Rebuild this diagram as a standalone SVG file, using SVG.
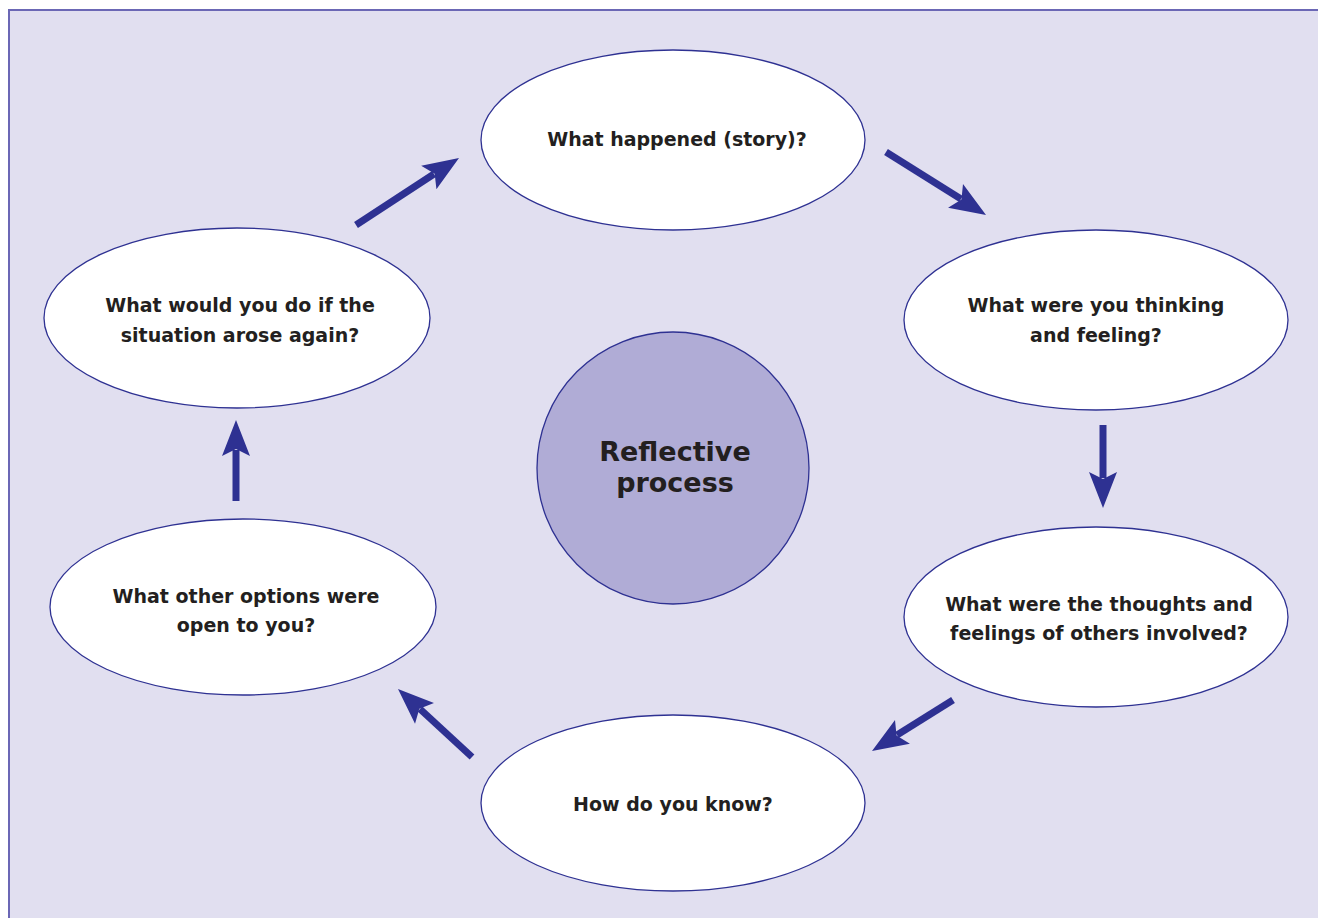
<svg xmlns="http://www.w3.org/2000/svg" width="1318" height="918" viewBox="0 0 1318 918">
<style>
.node{fill:#ffffff;stroke:#2e3192;stroke-width:1.3}
.hub{fill:#b0acd6;stroke:#2e3192;stroke-width:1.3}
.lbl{font-family:"DejaVu Sans","Liberation Sans",sans-serif;font-weight:bold;font-size:19px;fill:#231f20;text-anchor:middle}
.hubl{font-family:"DejaVu Sans","Liberation Sans",sans-serif;font-weight:bold;font-size:27px;fill:#231f20;text-anchor:middle}
.shaft{stroke:#2e3192;stroke-width:7;fill:none}
.head{fill:#2e3192}
</style>
<defs>
<path id="ah" d="M0,0 L-36,-14 L-29,0 L-36,14 Z"/>
</defs>
<rect x="0" y="0" width="1318" height="918" fill="#ffffff"/>
<rect x="9" y="10" width="1320" height="920" fill="#e1dff0" stroke="#6b67b5" stroke-width="2"/>

<g id="hub">
<circle class="hub" cx="673" cy="468" r="136"/>
<text class="hubl" x="675" y="461">Reflective</text>
<text class="hubl" x="675" y="492">process</text>
</g>
<g id="n1">
<ellipse class="node" cx="673" cy="140" rx="192" ry="90"/>
<text class="lbl" x="677" y="146">What happened (story)?</text>
</g>
<g id="n2">
<ellipse class="node" cx="1096" cy="320" rx="192" ry="90"/>
<text class="lbl" x="1096" y="312">What were you thinking</text>
<text class="lbl" x="1096" y="342">and feeling?</text>
</g>
<g id="n3">
<ellipse class="node" cx="1096" cy="617" rx="192" ry="90"/>
<text class="lbl" x="1099" y="611">What were the thoughts and</text>
<text class="lbl" x="1099" y="640">feelings of others involved?</text>
</g>
<g id="n4">
<ellipse class="node" cx="673" cy="803" rx="192" ry="88"/>
<text class="lbl" x="673" y="811">How do you know?</text>
</g>
<g id="n5">
<ellipse class="node" cx="243" cy="607" rx="193" ry="88"/>
<text class="lbl" x="246" y="603">What other options were</text>
<text class="lbl" x="246" y="632">open to you?</text>
</g>
<g id="n6">
<ellipse class="node" cx="237" cy="318" rx="193" ry="90"/>
<text class="lbl" x="240" y="312">What would you do if the</text>
<text class="lbl" x="240" y="342">situation arose again?</text>
</g>

<g id="connectors">
<line class="shaft" x1="886" y1="152" x2="961" y2="199"/>
<use href="#ah" class="head" transform="translate(986,215) rotate(32.2)"/>
<line class="shaft" x1="1103" y1="425" x2="1103" y2="478"/>
<use href="#ah" class="head" transform="translate(1103,508) rotate(90)"/>
<line class="shaft" x1="953" y1="700" x2="897" y2="735"/>
<use href="#ah" class="head" transform="translate(872,751) rotate(147.8)"/>
<line class="shaft" x1="472" y1="757" x2="420" y2="709"/>
<use href="#ah" class="head" transform="translate(398,689) rotate(222.6)"/>
<line class="shaft" x1="236" y1="501" x2="236" y2="450"/>
<use href="#ah" class="head" transform="translate(236,420) rotate(-90)"/>
<line class="shaft" x1="356" y1="225" x2="434" y2="174"/>
<use href="#ah" class="head" transform="translate(459,158) rotate(-33)"/>
</g>
</svg>
